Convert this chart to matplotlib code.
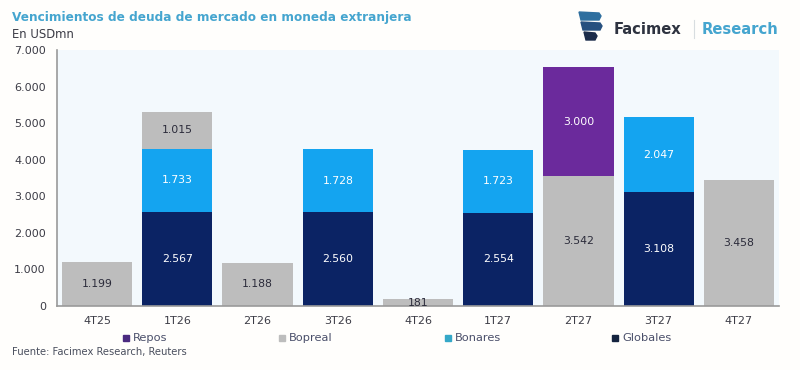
import matplotlib
matplotlib.use("Agg")
import matplotlib.pyplot as plt
import matplotlib.patches as patches

quarters = ["4T25", "1T26", "2T26", "3T26", "4T26", "1T27", "2T27", "3T27", "4T27"]
globales = [0, 2567, 0, 2560, 0, 2554, 0, 3108, 0]
bonares = [0, 1733, 0, 1728, 0, 1723, 0, 2047, 0]
bopreal = [1199, 1015, 1188, 0, 181, 0, 3542, 0, 3458]
repos = [0, 0, 0, 0, 0, 0, 3000, 0, 0]
yticks = [0, 1000, 2000, 3000, 4000, 5000, 6000, 7000]


def fmt(v):
    return f"{v:,}".replace(",", ".")


plt.rcParams["font.family"] = ["DejaVu Sans"]
W, H = 800, 370
fig = plt.figure(figsize=(8, 3.7), dpi=100, facecolor="#fffefc")
ax = fig.add_axes([57 / W, 1 - 306 / H, (779 - 57) / W, (306 - 50) / H])
ax.set_facecolor("#f3f9fd")

x = list(range(len(quarters)))
series = [
    (globales, "#0b2364", "white"),
    (bonares, "#14a4f0", "white"),
    (bopreal, "#bdbdbd", "#2b2b3a"),
    (repos, "#6b2a9c", "white"),
]
bottom = [0] * len(x)
for vals, color, txt in series:
    ax.bar(x, vals, 0.875, bottom=bottom, color=color)
    for i, v in enumerate(vals):
        if v:
            ax.text(i, bottom[i] + v / 2, fmt(v), ha="center", va="center",
                    fontsize=7.8, color=txt)
    bottom = [b + v for b, v in zip(bottom, vals)]

ax.set_xlim(-0.5, 8.5)
ax.set_ylim(0, 7000)
ax.set_xticks(x, quarters)
ax.set_yticks(yticks, [fmt(v) for v in yticks])
ax.tick_params(length=0, labelsize=8, labelcolor="#3c3c46")
ax.tick_params(axis="x", pad=7)
ax.tick_params(axis="y", pad=8)
for s in ["top", "right"]:
    ax.spines[s].set_visible(False)
for s in ["left", "bottom"]:
    ax.spines[s].set_color("#9a9a9a")
    ax.spines[s].set_linewidth(1.2)

# titulo y notas
fig.text(12 / W, 1 - 18 / H, "Vencimientos de deuda de mercado en moneda extranjera",
         fontsize=8.7, fontweight="bold", color="#45a5cf", va="center")
fig.text(12 / W, 1 - 34 / H, "En USDmn", fontsize=8.4, color="#3c3c46", va="center")
fig.text(12 / W, 1 - 352 / H, "Fuente: Facimex Research, Reuters", fontsize=7.2,
         color="#4a4f5e", va="center")

# leyenda a mano
legend = [("Repos", 127, "#4a2a80"), ("Bopreal", 283, "#bdbdbd"),
          ("Bonares", 449, "#35a8c8"), ("Globales", 616, "#14233f")]
for name, px, color in legend:
    fig.add_artist(patches.Rectangle(((px - 4) / W, 1 - 341 / H), 6 / W, 6 / H,
                                     transform=fig.transFigure, color=color))
    fig.text((px + 6) / W, 1 - 338 / H, name, fontsize=8.2, color="#4a4f6a", va="center")

# logo
for y0, x0, x1, c in [(12, 579, 601, "#2f6f9f"), (22, 581, 602, "#27507f"), (32, 584, 597, "#1c2c4a")]:
    fig.add_artist(patches.Polygon(
        [(x0 / W, 1 - y0 / H), ((x1 - 2) / W, 1 - (y0 + 1) / H), (x1 / W, 1 - (y0 + 4) / H),
         ((x1 - 2) / W, 1 - (y0 + 8) / H), ((x0 + 2) / W, 1 - (y0 + 8) / H)],
        transform=fig.transFigure, color=c))
fig.text(614 / W, 1 - 29 / H, "Facimex", fontsize=10.6, fontweight="bold", color="#2e3340", va="center")
fig.add_artist(plt.Line2D([694 / W, 694 / W], [1 - 20 / H, 1 - 38 / H], color="#d8dde0", lw=0.8))
fig.text(702 / W, 1 - 29 / H, "Research", fontsize=10.6, fontweight="bold", color="#45a5cf", va="center")

fig.savefig("out.png", dpi=100)
